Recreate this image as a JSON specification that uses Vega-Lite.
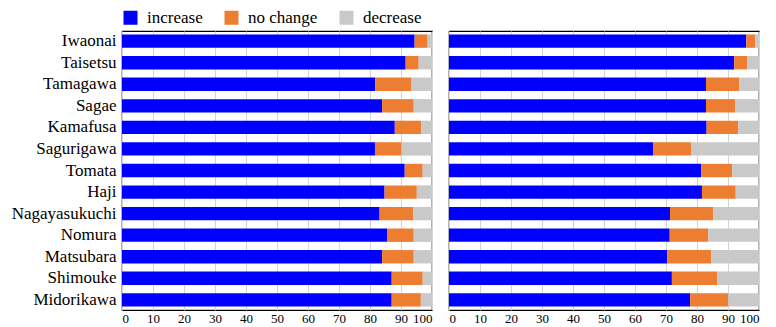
{
  "$schema": "https://vega.github.io/schema/vega-lite/v6.json",
  "padding": {"left": 10, "top": 9, "right": 4, "bottom": 0},
  "background": "white",
  "config": {
    "font": "Liberation Serif, serif",
    "view": {"stroke": "black", "strokeWidth": 1.2},
    "axis": {
      "labelFont": "Liberation Serif, serif",
      "labelColor": "black",
      "domainColor": "black",
      "ticks": false,
      "gridColor": "#d4d4d4",
      "gridWidth": 1
    },
    "legend": {"labelFont": "Liberation Serif, serif", "labelColor": "black"}
  },
  "datasets": {
    "shares": [
      {"panel": "A", "site": "Iwaonai", "cat": "increase", "k": 1, "pct": 94.4},
      {"panel": "A", "site": "Iwaonai", "cat": "no change", "k": 2, "pct": 4.2},
      {"panel": "A", "site": "Iwaonai", "cat": "decrease", "k": 3, "pct": 1.4},
      {"panel": "A", "site": "Taisetsu", "cat": "increase", "k": 1, "pct": 91.5},
      {"panel": "A", "site": "Taisetsu", "cat": "no change", "k": 2, "pct": 4.2},
      {"panel": "A", "site": "Taisetsu", "cat": "decrease", "k": 3, "pct": 4.3},
      {"panel": "A", "site": "Tamagawa", "cat": "increase", "k": 1, "pct": 81.7},
      {"panel": "A", "site": "Tamagawa", "cat": "no change", "k": 2, "pct": 11.7},
      {"panel": "A", "site": "Tamagawa", "cat": "decrease", "k": 3, "pct": 6.6},
      {"panel": "A", "site": "Sagae", "cat": "increase", "k": 1, "pct": 83.9},
      {"panel": "A", "site": "Sagae", "cat": "no change", "k": 2, "pct": 10.2},
      {"panel": "A", "site": "Sagae", "cat": "decrease", "k": 3, "pct": 5.9},
      {"panel": "A", "site": "Kamafusa", "cat": "increase", "k": 1, "pct": 88.0},
      {"panel": "A", "site": "Kamafusa", "cat": "no change", "k": 2, "pct": 8.5},
      {"panel": "A", "site": "Kamafusa", "cat": "decrease", "k": 3, "pct": 3.5},
      {"panel": "A", "site": "Sagurigawa", "cat": "increase", "k": 1, "pct": 81.6},
      {"panel": "A", "site": "Sagurigawa", "cat": "no change", "k": 2, "pct": 8.6},
      {"panel": "A", "site": "Sagurigawa", "cat": "decrease", "k": 3, "pct": 9.8},
      {"panel": "A", "site": "Tomata", "cat": "increase", "k": 1, "pct": 91.2},
      {"panel": "A", "site": "Tomata", "cat": "no change", "k": 2, "pct": 5.8},
      {"panel": "A", "site": "Tomata", "cat": "decrease", "k": 3, "pct": 3.0},
      {"panel": "A", "site": "Haji", "cat": "increase", "k": 1, "pct": 84.7},
      {"panel": "A", "site": "Haji", "cat": "no change", "k": 2, "pct": 10.4},
      {"panel": "A", "site": "Haji", "cat": "decrease", "k": 3, "pct": 4.9},
      {"panel": "A", "site": "Nagayasukuchi", "cat": "increase", "k": 1, "pct": 83.1},
      {"panel": "A", "site": "Nagayasukuchi", "cat": "no change", "k": 2, "pct": 10.9},
      {"panel": "A", "site": "Nagayasukuchi", "cat": "decrease", "k": 3, "pct": 6.0},
      {"panel": "A", "site": "Nomura", "cat": "increase", "k": 1, "pct": 85.5},
      {"panel": "A", "site": "Nomura", "cat": "no change", "k": 2, "pct": 8.6},
      {"panel": "A", "site": "Nomura", "cat": "decrease", "k": 3, "pct": 5.9},
      {"panel": "A", "site": "Matsubara", "cat": "increase", "k": 1, "pct": 83.9},
      {"panel": "A", "site": "Matsubara", "cat": "no change", "k": 2, "pct": 10.2},
      {"panel": "A", "site": "Matsubara", "cat": "decrease", "k": 3, "pct": 5.9},
      {"panel": "A", "site": "Shimouke", "cat": "increase", "k": 1, "pct": 87.0},
      {"panel": "A", "site": "Shimouke", "cat": "no change", "k": 2, "pct": 10.0},
      {"panel": "A", "site": "Shimouke", "cat": "decrease", "k": 3, "pct": 3.0},
      {"panel": "A", "site": "Midorikawa", "cat": "increase", "k": 1, "pct": 87.0},
      {"panel": "A", "site": "Midorikawa", "cat": "no change", "k": 2, "pct": 9.4},
      {"panel": "A", "site": "Midorikawa", "cat": "decrease", "k": 3, "pct": 3.6},

      {"panel": "B", "site": "Iwaonai", "cat": "increase", "k": 1, "pct": 95.9},
      {"panel": "B", "site": "Iwaonai", "cat": "no change", "k": 2, "pct": 2.9},
      {"panel": "B", "site": "Iwaonai", "cat": "decrease", "k": 3, "pct": 1.2},
      {"panel": "B", "site": "Taisetsu", "cat": "increase", "k": 1, "pct": 92.0},
      {"panel": "B", "site": "Taisetsu", "cat": "no change", "k": 2, "pct": 4.2},
      {"panel": "B", "site": "Taisetsu", "cat": "decrease", "k": 3, "pct": 3.8},
      {"panel": "B", "site": "Tamagawa", "cat": "increase", "k": 1, "pct": 82.9},
      {"panel": "B", "site": "Tamagawa", "cat": "no change", "k": 2, "pct": 10.7},
      {"panel": "B", "site": "Tamagawa", "cat": "decrease", "k": 3, "pct": 6.4},
      {"panel": "B", "site": "Sagae", "cat": "increase", "k": 1, "pct": 82.9},
      {"panel": "B", "site": "Sagae", "cat": "no change", "k": 2, "pct": 9.4},
      {"panel": "B", "site": "Sagae", "cat": "decrease", "k": 3, "pct": 7.7},
      {"panel": "B", "site": "Kamafusa", "cat": "increase", "k": 1, "pct": 83.1},
      {"panel": "B", "site": "Kamafusa", "cat": "no change", "k": 2, "pct": 10.2},
      {"panel": "B", "site": "Kamafusa", "cat": "decrease", "k": 3, "pct": 6.7},
      {"panel": "B", "site": "Sagurigawa", "cat": "increase", "k": 1, "pct": 65.8},
      {"panel": "B", "site": "Sagurigawa", "cat": "no change", "k": 2, "pct": 12.3},
      {"panel": "B", "site": "Sagurigawa", "cat": "decrease", "k": 3, "pct": 21.9},
      {"panel": "B", "site": "Tomata", "cat": "increase", "k": 1, "pct": 81.4},
      {"panel": "B", "site": "Tomata", "cat": "no change", "k": 2, "pct": 10.0},
      {"panel": "B", "site": "Tomata", "cat": "decrease", "k": 3, "pct": 8.6},
      {"panel": "B", "site": "Haji", "cat": "increase", "k": 1, "pct": 81.6},
      {"panel": "B", "site": "Haji", "cat": "no change", "k": 2, "pct": 10.9},
      {"panel": "B", "site": "Haji", "cat": "decrease", "k": 3, "pct": 7.5},
      {"panel": "B", "site": "Nagayasukuchi", "cat": "increase", "k": 1, "pct": 71.3},
      {"panel": "B", "site": "Nagayasukuchi", "cat": "no change", "k": 2, "pct": 13.9},
      {"panel": "B", "site": "Nagayasukuchi", "cat": "decrease", "k": 3, "pct": 14.8},
      {"panel": "B", "site": "Nomura", "cat": "increase", "k": 1, "pct": 71.2},
      {"panel": "B", "site": "Nomura", "cat": "no change", "k": 2, "pct": 12.4},
      {"panel": "B", "site": "Nomura", "cat": "decrease", "k": 3, "pct": 16.4},
      {"panel": "B", "site": "Matsubara", "cat": "increase", "k": 1, "pct": 70.4},
      {"panel": "B", "site": "Matsubara", "cat": "no change", "k": 2, "pct": 14.2},
      {"panel": "B", "site": "Matsubara", "cat": "decrease", "k": 3, "pct": 15.4},
      {"panel": "B", "site": "Shimouke", "cat": "increase", "k": 1, "pct": 71.9},
      {"panel": "B", "site": "Shimouke", "cat": "no change", "k": 2, "pct": 14.6},
      {"panel": "B", "site": "Shimouke", "cat": "decrease", "k": 3, "pct": 13.5},
      {"panel": "B", "site": "Midorikawa", "cat": "increase", "k": 1, "pct": 77.8},
      {"panel": "B", "site": "Midorikawa", "cat": "no change", "k": 2, "pct": 12.3},
      {"panel": "B", "site": "Midorikawa", "cat": "decrease", "k": 3, "pct": 9.9}
    ]
  },
  "data": {"name": "shares"},
  "spacing": 15,
  "resolve": {"scale": {"color": "shared"}},
  "hconcat": [
    {
      "width": 310,
      "height": 279,
      "transform": [{"filter": "datum.panel === 'A'"}],
      "mark": {"type": "bar"},
      "encoding": {
        "y": {
          "field": "site",
          "type": "nominal",
          "sort": ["Iwaonai", "Taisetsu", "Tamagawa", "Sagae", "Kamafusa", "Sagurigawa", "Tomata", "Haji", "Nagayasukuchi", "Nomura", "Matsubara", "Shimouke", "Midorikawa"],
          "scale": {"paddingInner": 0.38, "paddingOuter": 0.16},
          "axis": {"title": null, "labelFont": "Liberation Serif, serif", "labelFontSize": 17, "labelPadding": 6, "domain": false}
        },
        "x": {
          "field": "pct",
          "type": "quantitative",
          "stack": "zero",
          "scale": {"domain": [0, 100], "nice": false},
          "axis": {"title": null, "values": [0, 10, 20, 30, 40, 50, 60, 70, 80, 90, 100], "labelFont": "Liberation Serif, serif", "labelFontSize": 13, "labelPadding": 2, "grid": true, "domain": false}
        },
        "color": {
          "field": "cat",
          "type": "nominal",
          "scale": {"domain": ["increase", "no change", "decrease"], "range": ["#0000ff", "#ed7d31", "#c9c9c9"]},
          "legend": {
            "title": null,
            "orient": "top",
            "direction": "horizontal",
            "symbolType": "square",
            "symbolSize": 196,
            "symbolStrokeWidth": 0,
            "labelFont": "Liberation Serif, serif",
            "labelFontSize": 17,
            "columnPadding": 20,
            "labelOffset": 8,
            "offset": 4
          }
        },
        "order": {"field": "k", "type": "quantitative"}
      }
    },
    {
      "width": 310,
      "height": 279,
      "transform": [{"filter": "datum.panel === 'B'"}],
      "mark": {"type": "bar"},
      "encoding": {
        "y": {
          "field": "site",
          "type": "nominal",
          "sort": ["Iwaonai", "Taisetsu", "Tamagawa", "Sagae", "Kamafusa", "Sagurigawa", "Tomata", "Haji", "Nagayasukuchi", "Nomura", "Matsubara", "Shimouke", "Midorikawa"],
          "scale": {"paddingInner": 0.38, "paddingOuter": 0.16},
          "axis": null
        },
        "x": {
          "field": "pct",
          "type": "quantitative",
          "stack": "zero",
          "scale": {"domain": [0, 100], "nice": false},
          "axis": {"title": null, "values": [0, 10, 20, 30, 40, 50, 60, 70, 80, 90, 100], "labelFont": "Liberation Serif, serif", "labelFontSize": 13, "labelPadding": 2, "grid": true, "domain": false}
        },
        "color": {
          "field": "cat",
          "type": "nominal",
          "scale": {"domain": ["increase", "no change", "decrease"], "range": ["#0000ff", "#ed7d31", "#c9c9c9"]},
          "legend": null
        },
        "order": {"field": "k", "type": "quantitative"}
      }
    }
  ]
}
